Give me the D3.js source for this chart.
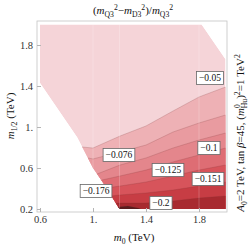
<!DOCTYPE html>
<html>
<head>
<meta charset="utf-8">
<script src="https://cdn.jsdelivr.net/npm/d3@7"></script>
<style>
  body { margin: 0; background: #fff; }
  svg { display: block; }
  text { font-family: "Liberation Serif", "DejaVu Serif", serif; }
</style>
</head>
<body>
<div class="contour_chart"></div>
<script>
// contour levels, as labelled on the plot
var levels = [-0.05, -0.076, -0.1, -0.125, -0.151, -0.176, -0.2, -0.225];

// band colours, lightest (above the first level) to darkest
var bandColors = ["#f5d4d8", "#eeb1b5", "#e99ba0", "#e4868c", "#de6d74", "#d7545b", "#c73d44", "#a82a30", "#5a1c1e"];

// region where the scan has points, [m0, m1/2] in TeV
var domainOutline = [
  [0.6, 2.0], [1.82, 2.0], [2.0, 1.66], [2.0, 0.2], [1.2, 0.2],
  [1.09, 0.43], [1.0, 0.6], [0.88, 0.9], [0.6, 1.43]
];

// one line per level, [m0, m1/2]
var contourLines = [
  [[0.917, 0.805], [1.0, 0.795], [1.204, 0.912], [1.4, 1.01], [1.604, 1.156], [1.8, 1.293], [2.0, 1.39]],
  [[0.962, 0.698], [1.0, 0.688], [1.204, 0.756], [1.4, 0.824], [1.604, 0.951], [1.8, 1.039], [2.0, 1.117]],
  [[1.03, 0.541], [1.204, 0.629], [1.4, 0.698], [1.604, 0.795], [1.8, 0.873], [2.0, 0.941]],
  [[1.068, 0.483], [1.204, 0.522], [1.4, 0.58], [1.604, 0.659], [1.8, 0.727], [2.0, 0.795]],
  [[1.098, 0.405], [1.204, 0.424], [1.4, 0.463], [1.604, 0.522], [1.8, 0.58], [2.0, 0.629]],
  [[1.136, 0.327], [1.204, 0.337], [1.4, 0.356], [1.604, 0.385], [1.8, 0.424], [2.0, 0.463]],
  [[1.166, 0.259], [1.204, 0.259], [1.4, 0.259], [1.604, 0.278], [1.8, 0.307], [2.0, 0.327]],
  [[1.17, 0.2], [1.189, 0.22], [1.264, 0.229], [1.34, 0.21], [1.36, 0.2]]
];

// contour labels and where they sit, [m0, m1/2]
var labelText = ["−0.05", "−0.076", "−0.1", "−0.125", "−0.151", "−0.176", "−0.2"];
var labelAt = [[1.883, 1.478], [1.196, 0.727], [1.875, 0.795], [1.566, 0.58], [1.868, 0.493], [1.023, 0.376], [1.513, 0.259]];

var xTicks = [0.6, 1.0, 1.4, 1.8],
  xTickText = ["0.6", "1.", "1.4", "1.8"];
var yTicks = [0.2, 0.6, 1.0, 1.4, 1.8],
  yTickText = ["0.2", "0.6", "1.", "1.4", "1.8"];

// polygon seams that show through the fill
var seams = [1.0, 1.2, 1.8];

var W = 249, H = 247;
var frame = { left: 37, right: 227, top: 21, bottom: 212 };

var svg = d3
  .select(".contour_chart")
  .append("svg")
  .attr("width", W)
  .attr("height", H);

var x = d3.scaleLinear().domain([0.6, 2.0]).range([40, 225.5]),
  y = d3.scaleLinear().domain([0.2, 2.0]).range([209, 24.5]);

var line = d3
  .line()
  .x(function (d) { return x(d[0]); })
  .y(function (d) { return y(d[1]); });

svg
  .append("clipPath")
  .attr("id", "scan")
  .append("path")
  .attr("d", line(domainOutline) + "Z");

var plot = svg.append("g").attr("clip-path", "url(#scan)");

plot
  .append("path")
  .attr("d", line(domainOutline) + "Z")
  .attr("fill", bandColors[0]);

// fill everything below each level
contourLines.forEach(function (pts, i) {
  var first = pts[0], last = pts[pts.length - 1];
  var poly = [[0.4, first[1]]].concat(pts, [[2.2, last[1]], [2.2, 0.0], [0.4, 0.0]]);
  if (i == contourLines.length - 1) poly = pts.slice();
  plot
    .append("path")
    .attr("d", line(poly) + "Z")
    .attr("fill", bandColors[i + 1]);
});

contourLines.forEach(function (pts) {
  plot
    .append("path")
    .attr("d", line(pts))
    .attr("fill", "none")
    .attr("stroke", "rgba(120,55,55,0.35)")
    .attr("stroke-width", 0.6);
});

seams.forEach(function (s) {
  plot
    .append("line")
    .attr("x1", x(s))
    .attr("x2", x(s))
    .attr("y1", 0)
    .attr("y2", H)
    .attr("stroke", "#fff")
    .attr("stroke-opacity", 0.3)
    .attr("stroke-width", 0.7);
});

// frame
svg
  .append("rect")
  .attr("x", frame.left)
  .attr("y", frame.top)
  .attr("width", frame.right - frame.left)
  .attr("height", frame.bottom - frame.top)
  .attr("fill", "none")
  .attr("stroke", "#c4c4c4")
  .attr("stroke-width", 0.8);

var xAxis = svg
  .append("g")
  .attr("transform", "translate(0," + frame.bottom + ")")
  .call(
    d3.axisBottom(x).tickValues(xTicks).tickSize(-4).tickPadding(4)
      .tickFormat(function (d, i) { return xTickText[i]; })
  );
var yAxis = svg
  .append("g")
  .attr("transform", "translate(" + frame.left + ",0)")
  .call(
    d3.axisLeft(y).tickValues(yTicks).tickSize(-4).tickPadding(4)
      .tickFormat(function (d, i) { return yTickText[i]; })
  );
[xAxis, yAxis].forEach(function (a) {
  a.select(".domain").remove();
  a.selectAll(".tick line").attr("stroke", "#b5b5b5");
  a.selectAll(".tick text")
    .attr("fill", "#333")
    .attr("font-size", 10.5)
    .attr("font-family", "Liberation Serif, serif");
});

// contour labels in boxes
labelText.forEach(function (t, i) {
  var g = svg
    .append("g")
    .attr("transform", "translate(" + x(labelAt[i][0]) + "," + y(labelAt[i][1]) + ")");
  var txt = g
    .append("text")
    .attr("text-anchor", "middle")
    .attr("dy", "0.34em")
    .attr("font-size", 9.5)
    .attr("fill", "#111")
    .text(t);
  var w = txt.node().getComputedTextLength();
  g.insert("rect", "text")
    .attr("x", -w / 2 - 2.5)
    .attr("y", -6.5)
    .attr("width", w + 5)
    .attr("height", 13)
    .attr("fill", "#fff")
    .attr("stroke", "#666")
    .attr("stroke-width", 0.8);
});

// text with italics, sub- and superscripts
function rich(sel, parts, size) {
  parts.forEach(function (p) {
    var ts = sel.append("tspan").text(p[0]);
    var kind = p[1] || "";
    if (kind.indexOf("i") >= 0) ts.attr("font-style", "italic");
    if (kind.indexOf("sub") >= 0) ts.attr("font-size", size * 0.7).attr("dy", size * 0.28);
    if (kind.indexOf("sup") >= 0) ts.attr("font-size", size * 0.7).attr("dy", -size * 0.4);
    if (p[2]) ts.attr("dx", p[2]);
    // undo the shift on the next run
    if (p[3]) ts.attr("dy", p[3]);
  });
}

var fs = 11;
var title = svg
  .append("text")
  .attr("x", 133)
  .attr("y", 14)
  .attr("text-anchor", "middle")
  .attr("font-size", fs)
  .attr("fill", "#111");
rich(title, [
  ["("], ["m", "i"], ["Q3", "sub"], ["2", "sup", 0, -fs * 0.68],
  ["−", null, 0, fs * 0.4], ["m", "i"], ["D3", "sub"], ["2", "sup", 0, -fs * 0.68],
  [")/", null, 0, fs * 0.4], ["m", "i"], ["Q3", "sub"], ["2", "sup", 0, -fs * 0.68]
], fs);

var xlab = svg
  .append("text")
  .attr("x", 134)
  .attr("y", 241)
  .attr("text-anchor", "middle")
  .attr("font-size", fs)
  .attr("fill", "#111");
rich(xlab, [["m", "i"], ["0", "sub"], [" (TeV)", null, 0, -fs * 0.28]], fs);

var ylab = svg
  .append("text")
  .attr("transform", "translate(14,116) rotate(-90)")
  .attr("text-anchor", "middle")
  .attr("font-size", fs)
  .attr("fill", "#111");
rich(ylab, [["m", "i"], ["1/2", "sub"], [" (TeV)", null, 0, -fs * 0.28]], fs);

var rlab = svg
  .append("text")
  .attr("transform", "translate(244,133) rotate(-90)")
  .attr("text-anchor", "middle")
  .attr("font-size", fs)
  .attr("fill", "#111");
rich(rlab, [
  ["A", "i"], ["0", "sub"], ["=2 TeV, tan ", null, 0, -fs * 0.28], ["β", "i"], ["=45, ("],
  ["m", "i"], ["0", "sup"], ["Hu", "sub", -4, fs * 0.68], [")", null, 0, -fs * 0.28],
  ["2", "sup"], ["=1 TeV", null, 0, fs * 0.4], ["2", "sup"]
], fs);
</script>
</body>
</html>
